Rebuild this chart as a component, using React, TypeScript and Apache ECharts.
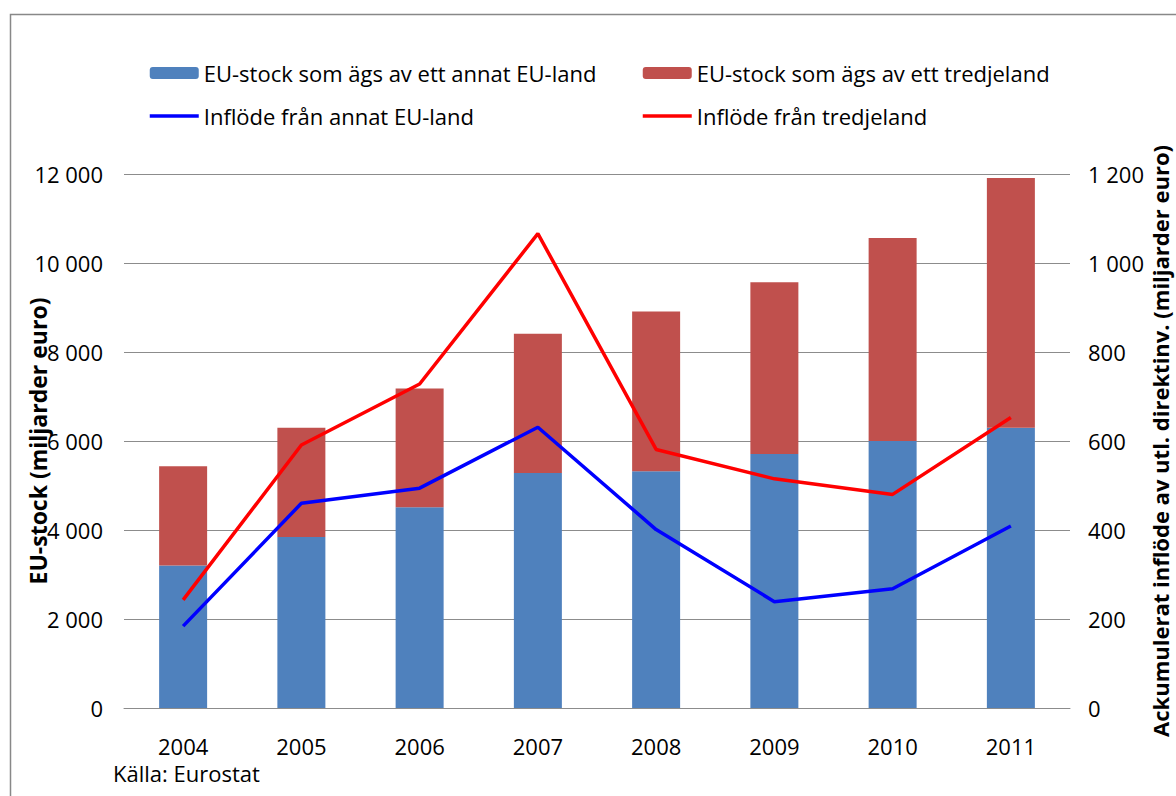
import React, { useEffect, useRef } from "react";
import * as echarts from "echarts";

const years = ["2004", "2005", "2006", "2007", "2008", "2009", "2010", "2011"];
const stockEU = [3200, 3840, 4510, 5280, 5320, 5710, 6000, 6300];
const stockThird = [2230, 2460, 2670, 3130, 3590, 3860, 4560, 5610];
const inflowEU = [184, 460, 494, 631, 401, 239, 268, 409];
const inflowThird = [243, 591, 728, 1066, 581, 515, 480, 653];
const leftTickLabels = ["0", "2 000", "4 000", "6 000", "8 000", "10 000", "12 000"];
const rightTickLabels = ["0", "200", "400", "600", "800", "1 000", "1 200"];

const nameStockEU = "EU-stock som ägs av ett annat EU-land";
const nameStockThird = "EU-stock som ägs av ett tredjeland";
const nameInflowEU = "Inflöde från annat EU-land";
const nameInflowThird = "Inflöde från tredjeland";

const FONT = "Open Sans";

export default function App() {
  const ref = useRef<HTMLDivElement>(null);
  useEffect(() => {
    if (!ref.current) return;
    const chart = echarts.init(ref.current, null, { renderer: "svg" });
    const legendText = { fontFamily: FONT, fontSize: 22, color: "#000", lineHeight: 22 };
    const lineItem = (name: string) => ({ name, itemStyle: { opacity: 0 }, lineStyle: { width: 3.5 } });
    chart.setOption({
      animation: false,
      backgroundColor: "#fff",
      textStyle: { fontFamily: FONT },
      grid: { left: 124, right: 106, top: 174, bottom: 88, containLabel: false, outerBoundsMode: "none" },
      legend: [
        {
          orient: "vertical",
          left: 148,
          top: 62,
          padding: 0,
          itemWidth: 49,
          itemHeight: 12,
          itemGap: 21,
          textStyle: legendText,
          data: [{ name: nameStockEU }, lineItem(nameInflowEU)],
        },
        {
          orient: "vertical",
          left: 641,
          top: 62,
          padding: 0,
          itemWidth: 49,
          itemHeight: 12,
          itemGap: 21,
          textStyle: legendText,
          data: [{ name: nameStockThird }, lineItem(nameInflowThird)],
        },
      ],
      xAxis: {
        type: "category",
        data: years,
        axisLine: { show: true, lineStyle: { color: "#8c8c8c", width: 1 } },
        axisTick: { show: false },
        axisLabel: { fontFamily: FONT, fontSize: 22, color: "#000", margin: 27 },
      },
      yAxis: [
        {
          type: "value",
          min: 0,
          max: 12000,
          interval: 2000,
          name: "EU-stock (miljarder euro)",
          nameLocation: "middle",
          nameGap: 75,
          nameMoveOverlap: false,
          nameTextStyle: { fontFamily: FONT, fontSize: 23, lineHeight: 23, fontWeight: "bold", color: "#000" },
          axisLine: { show: false },
          axisTick: { show: false },
          axisLabel: {
            fontFamily: FONT,
            fontSize: 22,
            color: "#000",
            margin: 21,
            formatter: (v: number) => leftTickLabels[Math.round(v / 2000)] ?? "",
          },
          splitLine: { show: true, lineStyle: { color: "#8c8c8c", width: 1 } },
        },
        {
          type: "value",
          min: 0,
          max: 1200,
          interval: 200,
          name: "Ackumulerat inflöde av utl. direktinv. (miljarder euro)",
          nameLocation: "middle",
          nameGap: 79,
          nameMoveOverlap: false,
          nameTextStyle: { fontFamily: FONT, fontSize: 22, lineHeight: 22, fontWeight: "bold", color: "#000" },
          axisLine: { show: false },
          axisTick: { show: false },
          axisLabel: {
            fontFamily: FONT,
            fontSize: 22,
            color: "#000",
            margin: 18,
            formatter: (v: number) => rightTickLabels[Math.round(v / 200)] ?? "",
          },
          splitLine: { show: false },
        },
      ],
      series: [
        {
          name: nameStockEU,
          type: "bar",
          stack: "stock",
          barWidth: 48,
          itemStyle: { color: "#4F81BD" },
          data: stockEU,
        },
        {
          name: nameStockThird,
          type: "bar",
          stack: "stock",
          barWidth: 48,
          itemStyle: { color: "#C0504D" },
          data: stockThird,
        },
        {
          name: nameInflowEU,
          type: "line",
          yAxisIndex: 1,
          symbol: "none",
          lineStyle: { color: "#0000FF", width: 3.5 },
          itemStyle: { color: "#0000FF" },
          data: inflowEU,
        },
        {
          name: nameInflowThird,
          type: "line",
          yAxisIndex: 1,
          symbol: "none",
          lineStyle: { color: "#FF0000", width: 3.5 },
          itemStyle: { color: "#FF0000" },
          data: inflowThird,
        },
      ],
      graphic: [
        {
          type: "rect",
          silent: true,
          shape: { x: 10.5, y: 14.5, width: 1300, height: 900 },
          style: { fill: "none", stroke: "#888", lineWidth: 1.5 },
        },
        {
          type: "text",
          left: 113,
          top: 762,
          style: { text: "Källa: Eurostat", fontFamily: FONT, fontSize: 22, fill: "#000" },
        },
      ],
    });
    return () => chart.dispose();
  }, []);
  return (
    <div
      ref={ref}
      style={{ position: "fixed", left: 0, top: 0, width: 1176, height: 796, background: "#fff" }}
    />
  );
}
